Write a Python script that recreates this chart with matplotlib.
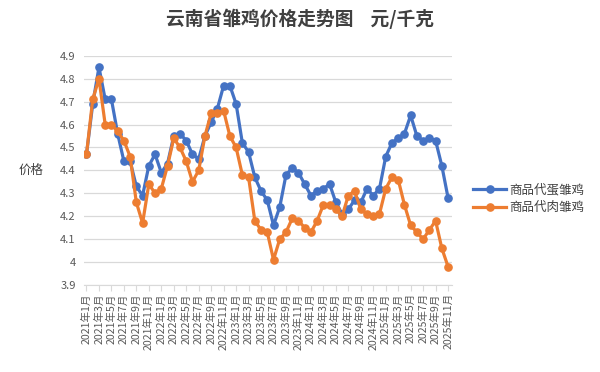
import matplotlib
matplotlib.use("Agg")
import matplotlib.pyplot as plt

plt.rcParams['font.family'] = ['Noto Sans CJK SC', 'DejaVu Sans']

months = [f"{y}年{m}月" for y in range(2021, 2026) for m in range(1, 13)][:59]

egg_chicks = [4.47, 4.69, 4.85, 4.71, 4.71, 4.56, 4.44, 4.44, 4.33, 4.29,
              4.42, 4.47, 4.39, 4.43, 4.55, 4.56, 4.53, 4.47, 4.45, 4.55,
              4.61, 4.67, 4.77, 4.77, 4.69, 4.52, 4.48, 4.37, 4.31, 4.27,
              4.16, 4.24, 4.38, 4.41, 4.39, 4.34, 4.29, 4.31, 4.32, 4.34,
              4.26, 4.21, 4.23, 4.27, 4.26, 4.32, 4.29, 4.32, 4.46, 4.52,
              4.54, 4.56, 4.64, 4.55, 4.53, 4.54, 4.53, 4.42, 4.28]

meat_chicks = [4.47, 4.71, 4.80, 4.60, 4.60, 4.57, 4.53, 4.46, 4.26, 4.17,
               4.34, 4.30, 4.32, 4.42, 4.54, 4.50, 4.44, 4.35, 4.40, 4.55,
               4.65, 4.65, 4.66, 4.55, 4.50, 4.38, 4.37, 4.18, 4.14, 4.13,
               4.01, 4.10, 4.13, 4.19, 4.18, 4.15, 4.13, 4.18, 4.25, 4.25,
               4.23, 4.20, 4.29, 4.31, 4.23, 4.21, 4.20, 4.21, 4.32, 4.37,
               4.36, 4.25, 4.16, 4.13, 4.10, 4.14, 4.18, 4.06, 3.98]

series_names = ["商品代蛋雏鸡", "商品代肉雏鸡"]
yticks = [3.9, 4.0, 4.1, 4.2, 4.3, 4.4, 4.5, 4.6, 4.7, 4.8, 4.9]
ytick_labels = ["3.9", "4", "4.1", "4.2", "4.3", "4.4", "4.5", "4.6", "4.7", "4.8", "4.9"]

fig = plt.figure(figsize=(6, 3.72), dpi=100)
ax = fig.add_axes([0.14, 0.234, 0.613, 0.616])

x = list(range(len(months)))
ax.plot(x, egg_chicks, color='#4472C4', lw=2.3, marker='o', ms=5.2,
        label=series_names[0], zorder=3)
ax.plot(x, meat_chicks, color='#ED7D31', lw=2.3, marker='o', ms=5.2,
        label=series_names[1], zorder=4)

ax.set_ylim(3.9, 4.9)
ax.set_xlim(-0.4, 58.6)
ax.set_yticks(yticks)
ax.set_yticklabels(ytick_labels)
ax.yaxis.grid(True, color='#D9D9D9', lw=0.9)
ax.set_axisbelow(True)

ax.set_xticks(x[::2])
ax.set_xticklabels(months[::2], rotation=90, fontsize=7.6, color='#595959')
ax.tick_params(axis='x', length=4, color='#D9D9D9', pad=2)
ax.tick_params(axis='y', length=0, labelsize=8, labelcolor='#595959', pad=6)

for s in ['top', 'right', 'left']:
    ax.spines[s].set_visible(False)
ax.spines['bottom'].set_color('#D9D9D9')

ax.set_ylabel("价格", rotation=0, fontsize=9, color='#404040', va='center', ha='center')
ax.yaxis.set_label_coords(-0.145, 0.5)

fig.text(0.5, 0.95, "云南省雏鸡价格走势图    元/千克", ha='center', va='center',
         fontsize=13.5, fontweight='bold', color='#404040')

fig.legend(loc='center left', bbox_to_anchor=(0.77, 0.465), frameon=False,
           fontsize=9, handlelength=2.6, labelspacing=0.35,
           labelcolor='#404040', handletextpad=0.3)

fig.savefig("out.png", dpi=100)
